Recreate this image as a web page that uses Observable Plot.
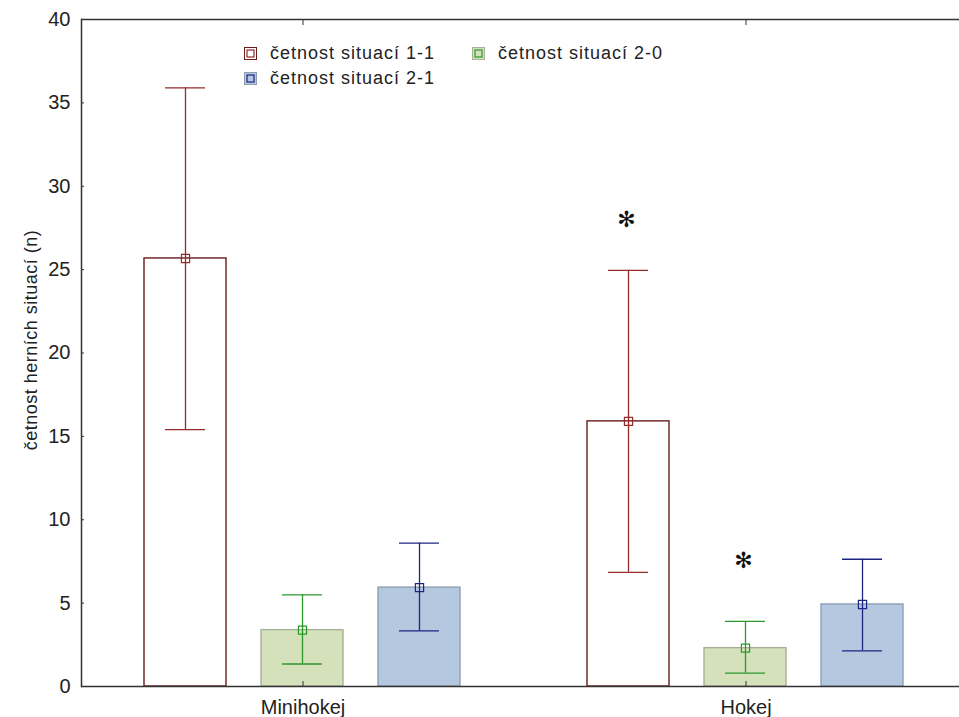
<!DOCTYPE html>
<html><head><meta charset="utf-8">
<script src="https://cdn.jsdelivr.net/npm/d3@7"></script>
<script src="https://cdn.jsdelivr.net/npm/@observablehq/plot@0.6"></script>
<style>
html,body{margin:0;padding:0;overflow:hidden;background:#fff;}
#wrap{position:relative;width:967px;height:717px;}
.legend{position:absolute;left:244px;top:41px;font-family:"Liberation Sans",Arial,sans-serif;font-size:18px;letter-spacing:1px;color:#222;display:grid;grid-template-columns:228px auto;line-height:25px;}
.item{display:flex;align-items:center;white-space:nowrap;}
.item svg{margin-right:13px;flex:none;}
</style>
</head><body>
<div id="wrap"><div class="legend" id="legend"></div></div>
<script>
const categories = ["Minihokej", "Hokej"];
const seriesKeys = ["1-1", "2-0", "2-1"];
const seriesLabels = ["četnost situací 1-1", "četnost situací 2-0", "četnost situací 2-1"];
const meanMinihokej = [25.67, 3.38, 5.93];
const meanHokej = [15.9, 2.3, 4.92];
const upperMinihokej = [35.9, 5.5, 8.6];
const lowerMinihokej = [15.4, 1.35, 3.33];
const upperHokej = [24.95, 3.9, 7.63];
const lowerHokej = [6.85, 0.8, 2.14];
const yTicks = [0, 5, 10, 15, 20, 25, 30, 35, 40];
const yLabel = "četnost herních situací (n)";
const starCategories = ["Hokej", "Hokej"];
const starSeries = ["1-1", "2-0"];
const starValues = [28.0, 7.5];

const barFill = ["#ffffff", "#d4e1bb", "#b4c8e0"];
const barStroke = ["#6a1c1c", "#a7b198", "#8e9fb4"];
const errColor = ["#952a2a", "#2b992b", "#1c2682"];

const means = [meanMinihokej, meanHokej];
const uppers = [upperMinihokej, upperHokej];
const lowers = [lowerMinihokej, lowerHokej];
const rows = [];
categories.forEach((c, ci) => seriesKeys.forEach((s, si) => rows.push({
  category: c, series: s, mean: means[ci][si], hi: uppers[ci][si], lo: lowers[ci][si],
  fill: barFill[si], stroke: barStroke[si], err: errColor[si]
})));
const stars = starCategories.map((c, i) => ({category: c, series: starSeries[i], y: starValues[i]}));

const chart = Plot.plot({
  width: 967, height: 717,
  marginLeft: 80, marginRight: 0, marginTop: 19, marginBottom: 31,
  style: {fontFamily: "'Liberation Sans', Arial, sans-serif", fontSize: "20px", color: "#222", background: "white"},
  fx: {domain: categories, padding: 0, label: null},
  x: {domain: seriesKeys, paddingInner: 0.297, paddingOuter: 0.528, axis: null},
  y: {domain: [0, 40]},
  color: {type: "identity"},
  marks: [
    Plot.barY(rows, {fx: "category", x: "series", y: "mean", fill: "fill", stroke: "stroke", strokeWidth: 1.4}),
    Plot.ruleX(rows, {fx: "category", x: "series", y1: "lo", y2: "hi", stroke: "err", strokeWidth: 1.3}),
    Plot.tickY(rows, {fx: "category", x: "series", y: "hi", stroke: "err", strokeWidth: 1.3, insetLeft: 21, insetRight: 21}),
    Plot.tickY(rows, {fx: "category", x: "series", y: "lo", stroke: "err", strokeWidth: 1.3, insetLeft: 21, insetRight: 21}),
    Plot.dot(rows, {fx: "category", x: "series", y: "mean", symbol: "square", r: 4.6, stroke: "err", strokeWidth: 1.2, fill: "none"}),
    Plot.text(stars, {fx: "category", x: "series", y: "y", text: () => "✻", fontSize: 22, fontWeight: "bold", fill: "#111", dx: -2, fontFamily: "DejaVu Sans"}),
    Plot.ruleY([0, 40], {stroke: "#333", strokeWidth: 1.5}),
    Plot.frame({anchor: "left", facetAnchor: "left", stroke: "#333", strokeWidth: 1.5}),
    Plot.axisY({ticks: yTicks, tickSize: 0, tickPadding: 11, fontSize: 20, stroke: "#333", label: yLabel, labelAnchor: "center", labelArrow: "none", labelOffset: 57}),
    Plot.axisY({ticks: yTicks, tickSize: 3, dx: 3, text: null, label: null, stroke: "#333"}),
    Plot.axisFx({anchor: "bottom", tickSize: 0, tickPadding: 13, fontSize: 20, label: null}),
    Plot.axisFx({anchor: "bottom", tickSize: 5, dy: -5, text: null, label: null, stroke: "#333"}),
    Plot.axisFx({anchor: "top", tickSize: 5, dy: 5, text: null, label: null, stroke: "#333"})
  ]
});
document.getElementById("wrap").prepend(chart);

// y label styling
d3.select(chart).selectAll("g[aria-label='y-axis label'] text")
  .attr("font-size", 18).attr("letter-spacing", 0.5).attr("dx", 13)
  .text(yLabel);

// legend
const legend = document.getElementById("legend");
[0, 1, 2].forEach(i => {
  const item = document.createElement("div");
  item.className = "item";
  item.innerHTML = `<svg width="13" height="13"><rect x="0.5" y="0.5" width="12" height="12" fill="${barFill[i]}" stroke="${barStroke[i]}"/><rect x="3" y="3" width="7" height="7" fill="none" stroke="${errColor[i]}" stroke-width="1.2"/></svg><span>${seriesLabels[i]}</span>`;
  legend.appendChild(item);
});
</script>
</body></html>
